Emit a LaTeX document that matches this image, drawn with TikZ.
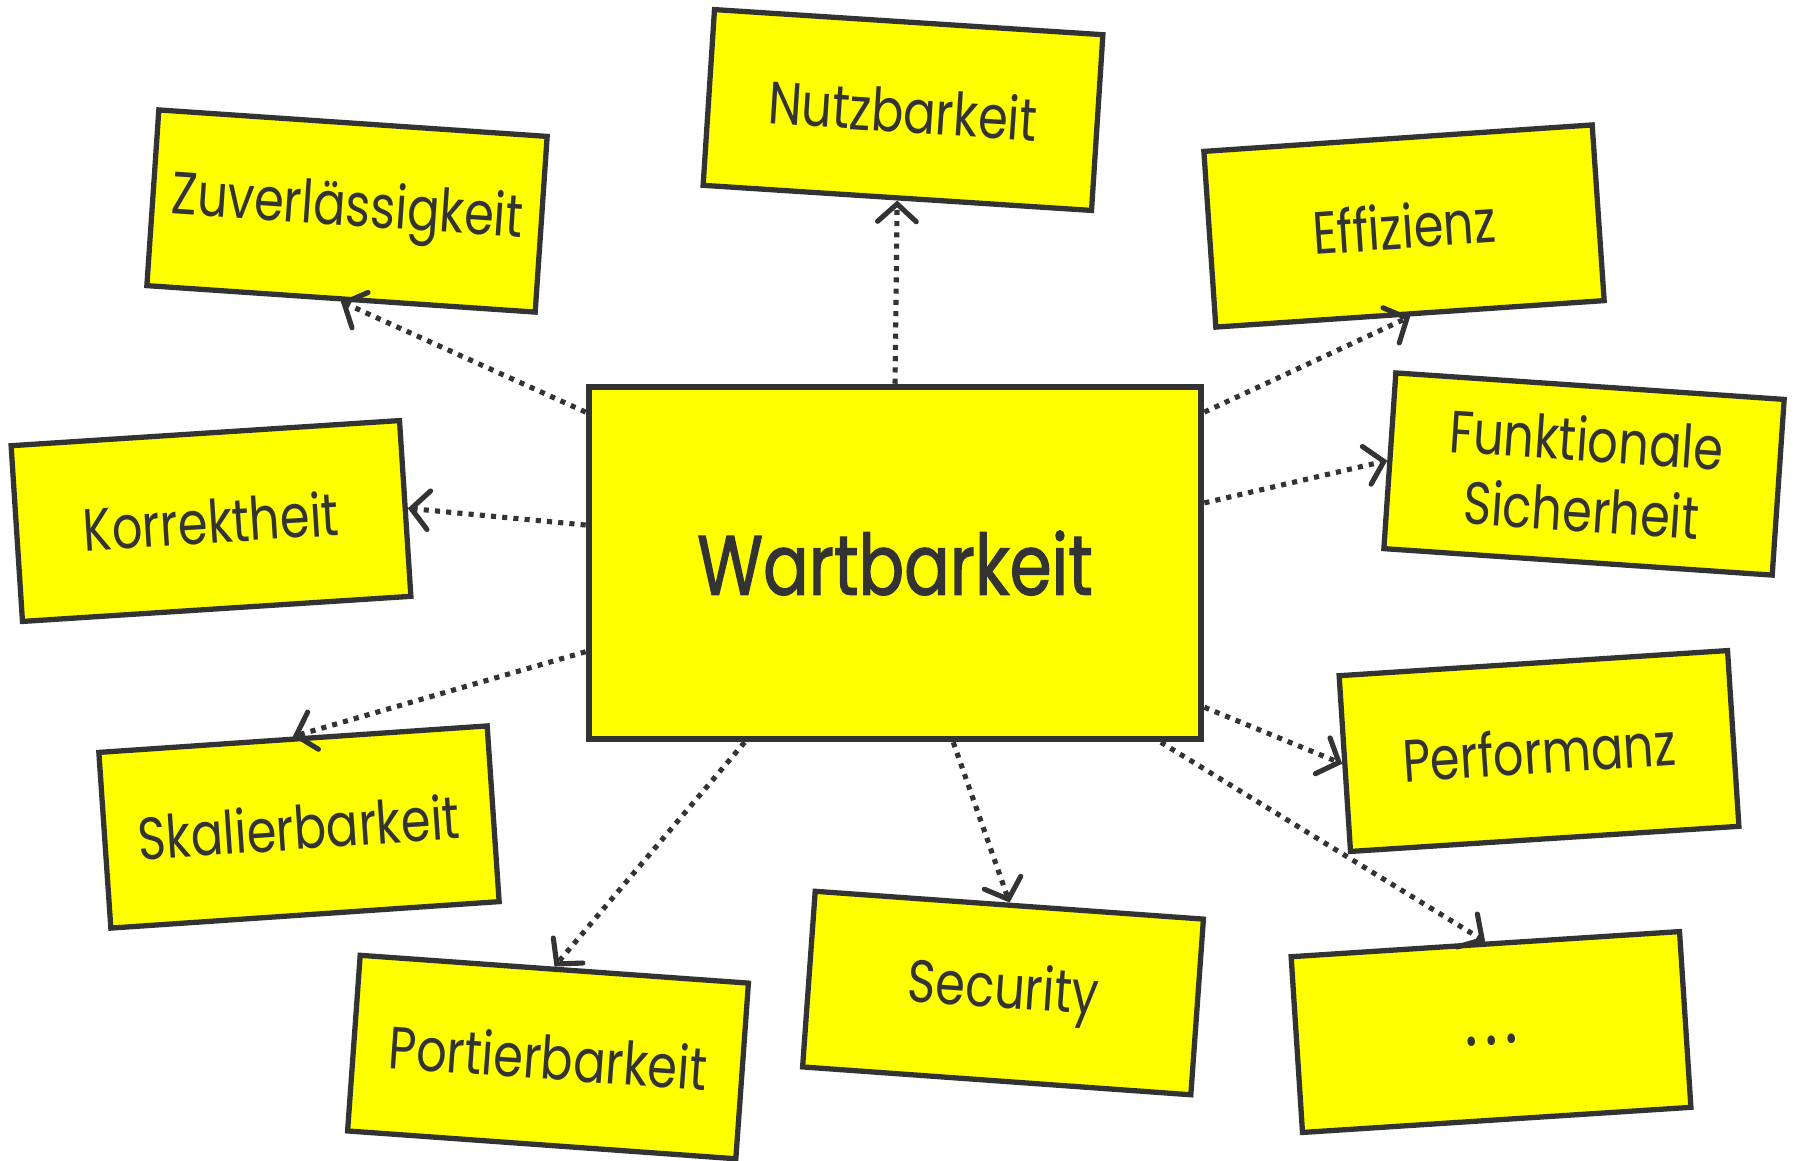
\documentclass[tikz,border=0pt]{standalone}
\usepackage{fontspec}
\setmainfont{Poppins}[FakeStretch=0.8]
\newfontfamily\tafelfont{Poppins}[FakeStretch=0.8, FakeBold=1.4]
\usetikzlibrary{arrows.meta}
\definecolor{kartengelb}{HTML}{FFFF00}
\definecolor{tinte}{HTML}{333333}
\begin{document}
\begin{tikzpicture}[x=0.01cm, y=-0.01cm,
  karte/.style={draw=tinte, line width=1.5pt, fill=kartengelb, text=tinte,
    minimum width=3.89cm, minimum height=1.76cm, inner sep=0pt, align=center,
    font=\fontsize{17}{20}\selectfont},
  tafel/.style={karte, line width=1.8pt, minimum width=6.12cm, minimum height=3.52cm,
    font=\fontsize{24}{26}\tafelfont},
  pfeil/.style={tinte, line width=1.45pt, dash pattern=on 1.45pt off 1.75pt,
    -{Straight Barb[length=5pt, width=11pt, line cap=round]}}]
  \useasboundingbox (0,0) rectangle (1801,1160);
  \node[tafel] (wart) at (895,563) {Wartbarkeit};
  \node[karte, rotate=-3.7] (nutz) at (903,110) {Nutzbarkeit};
  \node[karte, rotate=-3.9] (zuv) at (347,211) {Zuverlässigkeit};
  \node[karte, rotate=3.9] (eff) at (1404,226) {Effizienz};
  \node[karte, rotate=3.7] (korr) at (211,521) {Korrektheit};
  \node[karte, rotate=-3.9] (funk) at (1584,474) {Funktionale\\Sicherheit};
  \node[karte, rotate=3.9] (skal) at (299,827) {Skalierbarkeit};
  \node[karte, rotate=3.7] (perf) at (1539,751) {Performanz};
  \node[karte, rotate=-4.1] (port) at (548,1057) {Portierbarkeit};
  \node[karte, rotate=-4.1] (sec) at (1003,993) {Security};
  \node[karte, rotate=3.7] (mehr) at (1491,1032)
    {\vphantom{Kg}{\fontsize{22}{20}\selectfont.\kern2pt.\kern2pt.}};
  \draw[pfeil] (wart.north) -- (nutz.south);
  \draw[pfeil] (wart.154.5) -- (zuv.south);
  \draw[pfeil] (wart.26.2) -- (eff.south);
  \draw[pfeil] (wart.173.5) -- (korr.east);
  \draw[pfeil] (wart.11) -- (funk.west);
  \draw[pfeil] (wart.196.6) -- (skal.north);
  \draw[pfeil] (wart.335.8) -- (perf.west);
  \draw[pfeil] (wart.230) -- (port.north);
  \draw[pfeil] (wart.288) -- (sec.north);
  \draw[pfeil] (wart.326) -- (mehr.north);
\end{tikzpicture}
\end{document}
